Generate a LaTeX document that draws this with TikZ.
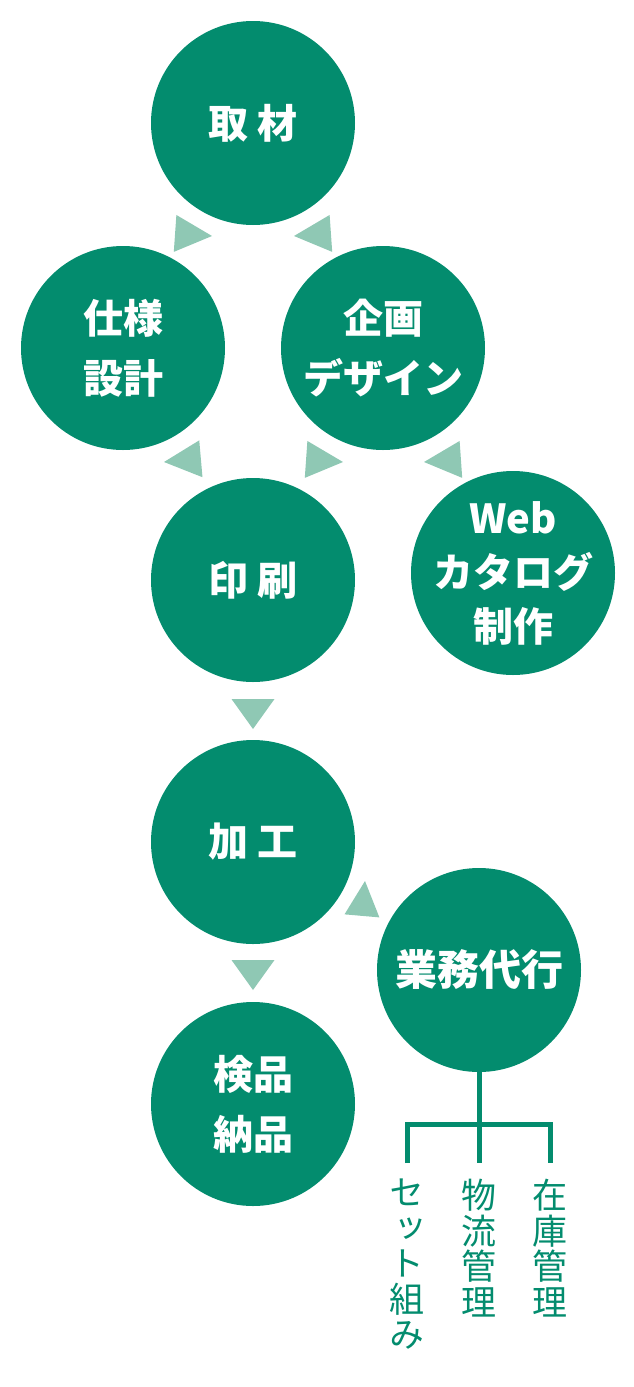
\documentclass[tikz,border=0pt]{standalone}
\usepackage{fontspec}
\usetikzlibrary{positioning}
\newfontfamily\cjk{Noto Sans CJK JP}
\newfontfamily\cjkv{Noto Sans CJK JP}[RawFeature=+vert]
\definecolor{flowgreen}{HTML}{038C6E}
\definecolor{arrowgreen}{HTML}{8FC8B4}

\begin{document}
\begin{tikzpicture}[x=1pt, y=-1pt,
    step circle/.style={circle, fill=flowgreen, minimum size=204pt, inner sep=-30pt,
        text=white, align=center, font=\cjk\bfseries\fontsize{40}{60}\selectfont},
    tri/.style={fill=arrowgreen},
    tree/.style={draw=flowgreen, line width=5pt},
    vtext/.style={anchor=north, inner sep=0pt, align=center, text=flowgreen,
        font=\cjkv\fontsize{35}{35.5}\selectfont}]
    \useasboundingbox (0,0) rectangle (634,1387);

    % steps
    \node[step circle] (shuzai)  at (253,123)  {取 材};
    \node[step circle] (shiyo)   at (123,348)  {仕様\\設計};
    \node[step circle] (kikaku)  at (383,348)  {企画\\デザイン};
    \node[step circle] (insatsu) at (253,580)  {印 刷};
    \node[step circle, font=\cjk\bfseries\fontsize{40}{54}\selectfont]
                       (web)     at (513,573)  {Web\\カタログ\\制作};
    \node[step circle] (kako)    at (253,842)  {加 工};
    \node[step circle, font=\cjk\bfseries\fontsize{42}{60}\selectfont]
                       (gyomu)   at (479,970)  {業務代行};
    \node[step circle] (kenpin)  at (253,1104) {検品\\納品};

    % triangles: tip x / tip y / angle / depth / width
    \foreach \px/\py/\rot/\d/\w in {212/236/-4/37/37, 294/236/184/37/37,
        164/462/185/37/37, 343/462/-4/37/37, 424/462/184/37/37,
        253/729/-90/30/43, 253/990/-90/30/43, 365/881/85/35/35}{
        \fill[tri, shift={(\px,\py)}, rotate=\rot]
            (0,0) -- (-\d,{-\w/2}) -- (-\d,{\w/2}) -- cycle;
    }

    % tree below gyomu
    \coordinate (forkM) at (479,1124);
    \coordinate (forkL) at (407,1124);
    \coordinate (forkR) at (550,1124);
    \coordinate (legL) at (407,1163);
    \coordinate (legM) at (479,1163);
    \coordinate (legR) at (550,1163);
    \draw[tree] (gyomu.south) -- (forkM) -- (legM);
    \draw[tree] (legL) -- (forkL) -- (forkR) -- (legR);

    \node[vtext, below=16pt of legL] (setto)  {セ\\ッ\\ト\\組\\み};
    \node[vtext, below=16pt of legM] (butsu)  {物\\流\\管\\理};
    \node[vtext, below=16pt of legR] (zaiko)  {在\\庫\\管\\理};
\end{tikzpicture}
\end{document}
